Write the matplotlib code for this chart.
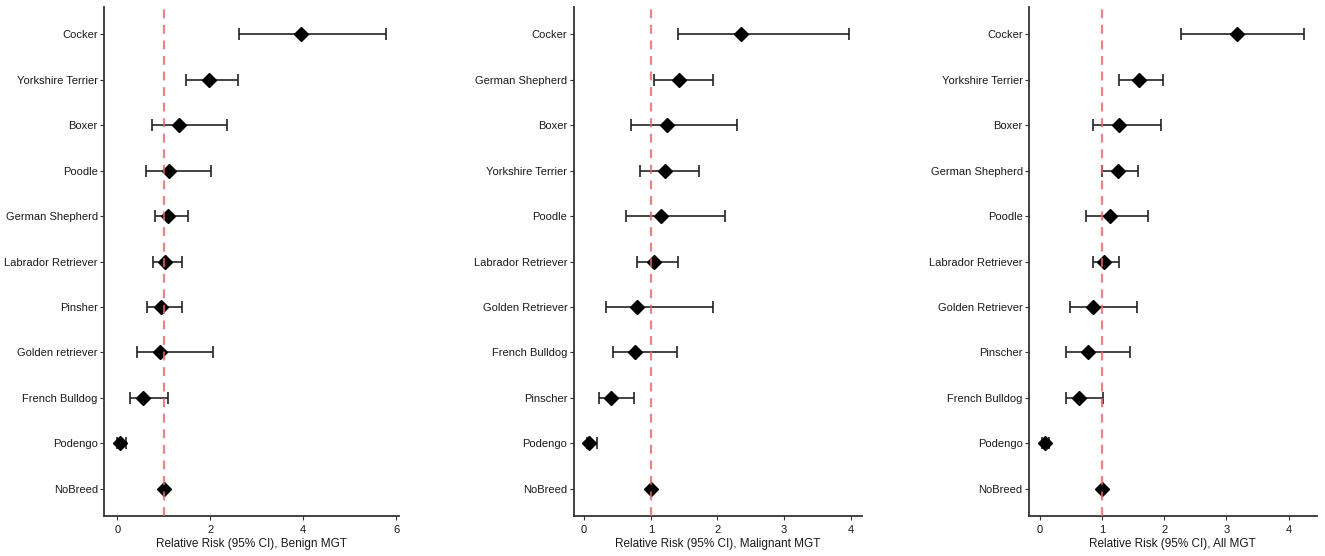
import matplotlib.pyplot as plt
import numpy as np

plt.rcParams['font.family'] = ['Liberation Sans', 'DejaVu Sans']

# panel 1: benign MGT (top to bottom)
benign_breeds = ['Cocker', 'Yorkshire Terrier', 'Boxer', 'Poodle', 'German Shepherd',
                 'Labrador Retriever', 'Pinsher', 'Golden retriever', 'French Bulldog',
                 'Podengo', 'NoBreed']
benign_rr = [3.94, 1.97, 1.32, 1.12, 1.09, 1.02, 0.94, 0.91, 0.54, 0.06, 1.0]
benign_lo = [2.62, 1.48, 0.75, 0.62, 0.80, 0.76, 0.63, 0.43, 0.27, 0.00, 1.0]
benign_hi = [5.77, 2.60, 2.36, 2.01, 1.52, 1.38, 1.38, 2.06, 1.08, 0.18, 1.0]

# panel 2: malignant MGT
malig_breeds = ['Cocker', 'German Shepherd', 'Boxer', 'Yorkshire Terrier', 'Poodle',
                'Labrador Retriever', 'Golden Retriever', 'French Bulldog', 'Pinscher',
                'Podengo', 'NoBreed']
malig_rr = [2.36, 1.42, 1.25, 1.22, 1.15, 1.05, 0.80, 0.77, 0.41, 0.08, 1.0]
malig_lo = [1.41, 1.05, 0.70, 0.84, 0.63, 0.80, 0.33, 0.43, 0.22, 0.04, 1.0]
malig_hi = [3.97, 1.93, 2.30, 1.73, 2.11, 1.41, 1.94, 1.40, 0.75, 0.20, 1.0]

# panel 3: all MGT
all_breeds = ['Cocker', 'Yorkshire Terrier', 'Boxer', 'German Shepherd', 'Poodle',
              'Labrador Retriever', 'Golden Retriever', 'Pinscher', 'French Bulldog',
              'Podengo', 'NoBreed']
all_rr = [3.17, 1.60, 1.28, 1.26, 1.13, 1.03, 0.86, 0.77, 0.64, 0.08, 1.0]
all_lo = [2.27, 1.28, 0.85, 1.01, 0.75, 0.85, 0.49, 0.43, 0.42, 0.04, 1.0]
all_hi = [4.24, 1.98, 1.95, 1.58, 1.74, 1.28, 1.57, 1.46, 1.02, 0.15, 1.0]

panels = [
    (benign_breeds, benign_rr, benign_lo, benign_hi, 'Relative Risk (95% CI), Benign MGT',
     [0, 2, 4, 6], [0.0785, 0.0719, 0.2226, 0.9155]),
    (malig_breeds, malig_rr, malig_lo, malig_hi, 'Relative Risk (95% CI), Malignant MGT',
     [0, 1, 2, 3, 4], [0.433, 0.0719, 0.2174, 0.9155]),
    (all_breeds, all_rr, all_lo, all_hi, 'Relative Risk (95% CI), All MGT',
     [0, 1, 2, 3, 4], [0.7766, 0.0719, 0.2171, 0.9155]),
]

fig = plt.figure(figsize=(13.25, 5.56), dpi=100)

for breeds, rr, lo, hi, xlabel, xticks, pos in panels:
    ax = fig.add_axes(pos)
    n = len(breeds)
    y = np.arange(n)[::-1] + 1
    rr = np.array(rr)
    err = [rr - np.array(lo), np.array(hi) - rr]
    ax.errorbar(rr, y, xerr=err, fmt='none', ecolor='#222222', elinewidth=1.2,
                capsize=4, capthick=1.2, zorder=2)
    ax.plot(rr, y, 'D', color='black', markersize=7, zorder=3)
    ax.axvline(1, color='#e06868', linestyle=(0, (4, 3)), linewidth=1.6,
               alpha=0.8, zorder=4)

    lo_all = min(lo)
    hi_all = max(hi)
    pad = (hi_all - lo_all) * 0.05
    ax.set_xlim(lo_all - pad, hi_all + pad)
    ax.set_ylim(0.4, n + 0.6)
    ax.set_xticks(xticks)
    ax.set_yticks(y)
    ax.set_yticklabels(breeds)
    ax.tick_params(axis='both', labelsize=8, colors='#333333', labelcolor='#1a1a1a',
                   length=3, width=0.8)
    ax.tick_params(axis='y', pad=1.5)
    ax.set_xlabel(xlabel, fontsize=8.5, color='#1a1a1a', labelpad=2)
    for side in ['top', 'right']:
        ax.spines[side].set_visible(False)
    for side in ['left', 'bottom']:
        ax.spines[side].set_color('#333333')
        ax.spines[side].set_linewidth(1.3)

fig.savefig('out.png', dpi=100)
